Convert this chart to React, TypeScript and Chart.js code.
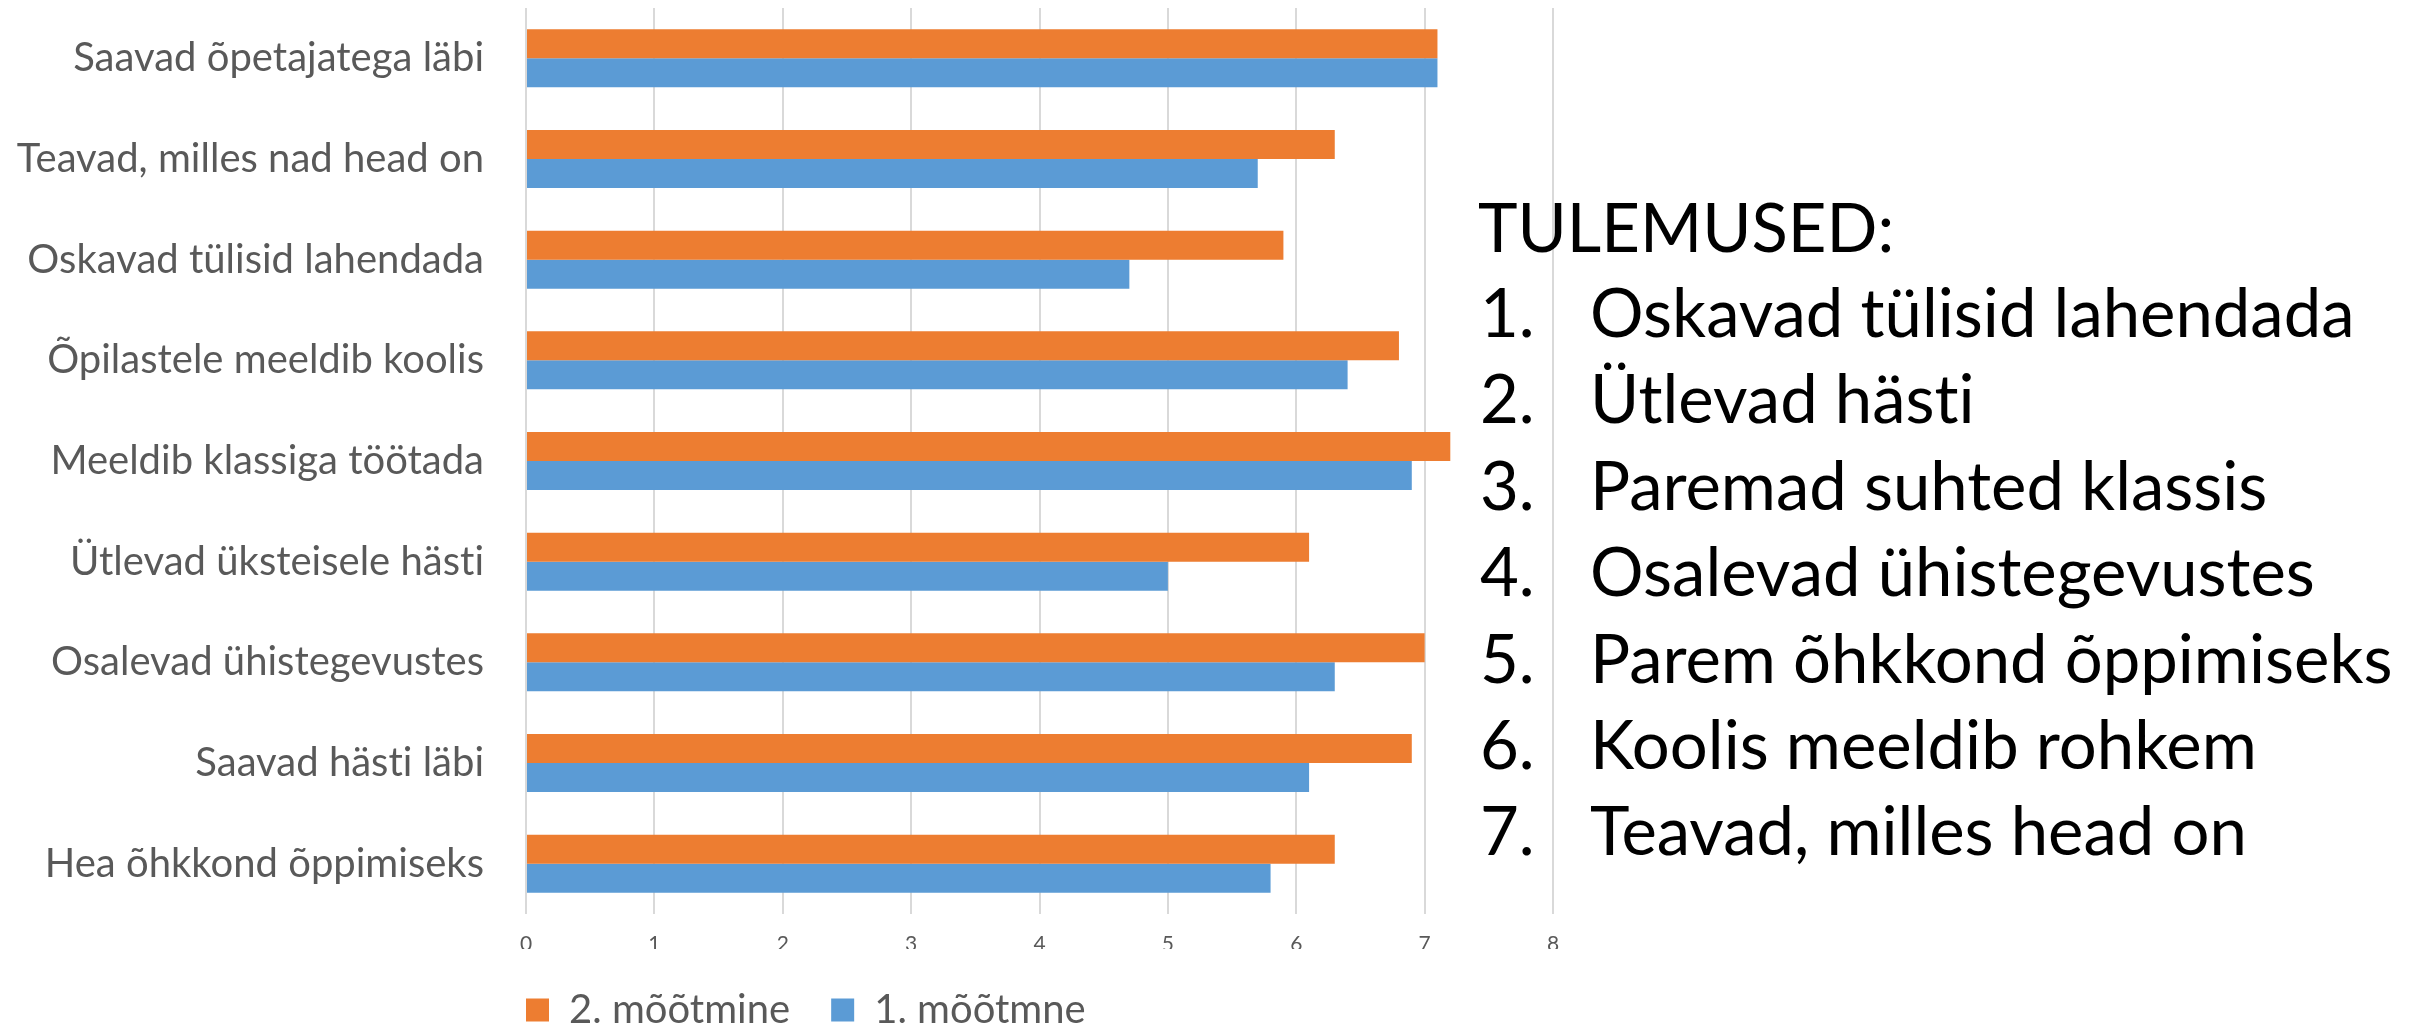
import React, { useEffect, useRef } from "react";
import { Chart, registerables } from "chart.js";

Chart.register(...registerables);

const categories = [
  "Saavad õpetajatega läbi",
  "Teavad, milles nad head on",
  "Oskavad tülisid lahendada",
  "Õpilastele meeldib koolis",
  "Meeldib klassiga töötada",
  "Ütlevad üksteisele hästi",
  "Osalevad ühistegevustes",
  "Saavad hästi läbi",
  "Hea õhkkond õppimiseks",
];
const secondMeasurement = [7.1, 6.3, 5.9, 6.8, 7.2, 6.1, 7.0, 6.9, 6.3];
const firstMeasurement = [7.1, 5.7, 4.7, 6.4, 6.9, 5.0, 6.3, 6.1, 5.8];
const seriesNames = ["2. mõõtmine", "1. mõõtmne"];
const seriesColors = ["#ED7D31", "#5B9BD5"];
const axisMin = 0;
const axisMax = 8;
const axisStep = 1;
const resultsTitle = "TULEMUSED:";
const results = [
  "Oskavad tülisid lahendada",
  "Ütlevad hästi",
  "Paremad suhted klassis",
  "Osalevad ühistegevustes",
  "Parem õhkkond õppimiseks",
  "Koolis meeldib rohkem",
  "Teavad, milles head on",
];

const W = 2418;
const H = 1027;
const CANVAS_H = 1040;
const FONT = "Lato, 'Open Sans', sans-serif";
const LEGEND_PAD = 41;

const noLigatures = {
  id: "noLigatures",
  beforeDraw(chart: any) {
    try {
      chart.ctx.letterSpacing = "0.01px";
    } catch (e) {
      /* ignore */
    }
  },
};

export default function App() {
  const ref = useRef<HTMLCanvasElement | null>(null);

  useEffect(() => {
    if (!ref.current) return;
    const chart = new Chart(ref.current, {
      type: "bar",
      data: {
        labels: categories,
        datasets: [
          {
            label: seriesNames[0],
            data: secondMeasurement,
            backgroundColor: seriesColors[0],
            borderWidth: 0,
            categoryPercentage: 0.576,
            barPercentage: 1,
          },
          {
            label: seriesNames[1],
            data: firstMeasurement,
            backgroundColor: seriesColors[1],
            borderWidth: 0,
            categoryPercentage: 0.576,
            barPercentage: 1,
          },
        ],
      },
      plugins: [noLigatures],
      options: {
        indexAxis: "y",
        responsive: false,
        animation: false,
        devicePixelRatio: 1,
        layout: {
          padding: { top: 8, right: W - 1553, left: 526 - LEGEND_PAD, bottom: 0 },
        },
        plugins: {
          tooltip: { enabled: false },
          legend: {
            display: true,
            position: "bottom",
            align: "start",
            fullSize: true,
            labels: {
              boxWidth: 23,
              boxHeight: 23,
              padding: LEGEND_PAD,
              color: "#595959",
              font: { family: FONT, size: 40 },
            },
          },
        },
        scales: {
          x: {
            type: "linear",
            position: "bottom",
            min: axisMin,
            max: axisMax,
            ticks: {
              stepSize: axisStep,
              color: "#595959",
              font: { family: FONT, size: 21 },
              padding: 18,
              maxRotation: 0,
            },
            grid: { color: "#D9D9D9", lineWidth: 2, drawTicks: false },
            border: { display: false },
            afterFit: (scale: any) => {
              scale.height = 35;
              scale.paddingLeft = 0;
              scale.paddingRight = 0;
            },
          },
          y: {
            type: "category",
            ticks: {
              color: "#595959",
              font: { family: FONT, size: 40 },
              padding: 42,
              autoSkip: false,
            },
            grid: { display: false, drawTicks: false },
            border: { display: false },
            afterFit: (scale: any) => {
              scale.width = LEGEND_PAD;
              scale.paddingTop = 0;
              scale.paddingBottom = 0;
              scale._computeLabelArea = () => undefined;
            },
          },
        },
      },
    });
    return () => chart.destroy();
  }, []);

  const textStyle: React.CSSProperties = {
    position: "absolute",
    fontFamily: FONT,
    fontSize: 67,
    lineHeight: "86px",
    color: "#000",
    whiteSpace: "nowrap",
    fontVariantLigatures: "none",
  };

  return (
    <div
      style={{
        position: "fixed",
        left: 0,
        top: 0,
        width: W,
        height: H,
        overflow: "hidden",
        background: "#fff",
      }}
    >
      <canvas
        ref={ref}
        width={W}
        height={CANVAS_H}
        style={{ position: "absolute", left: 0, top: 0, width: W, height: CANVAS_H }}
      />
      <div style={{ ...textStyle, left: 1478, top: 183 }}>{resultsTitle}</div>
      {results.map((r, i) => (
        <React.Fragment key={i}>
          <div style={{ ...textStyle, left: 1480, top: 268 + 86.4 * i }}>{`${i + 1}.`}</div>
          <div style={{ ...textStyle, left: 1590, top: 268 + 86.4 * i }}>{r}</div>
        </React.Fragment>
      ))}
    </div>
  );
}
